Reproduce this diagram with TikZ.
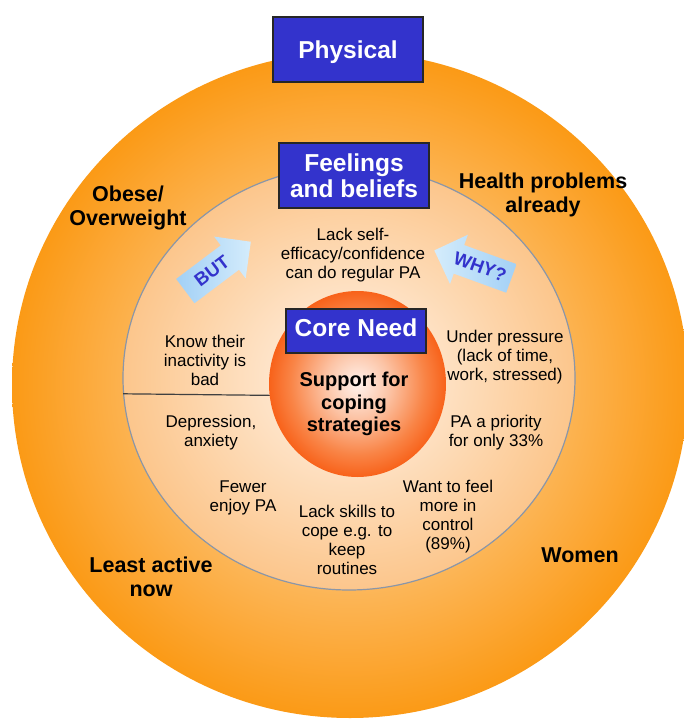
\documentclass[tikz,border=0pt]{standalone}
\usepackage{fontspec}
\setmainfont{Liberation Sans}
\usepackage{xcolor}
\definecolor{boxblue}{HTML}{3333CC}
\definecolor{butblue}{HTML}{A2D0F5}
\definecolor{butpale}{HTML}{D4ECFC}
\definecolor{rimorange}{HTML}{FB9A16}
\definecolor{glow}{HTML}{FFE4C4}
\definecolor{peach}{HTML}{FCC68C}
\definecolor{cream}{HTML}{FFF4EA}
\definecolor{ringline}{HTML}{8A96A8}
\definecolor{corelight}{HTML}{FFF2EC}
\definecolor{coremid}{HTML}{FCC4A6}
\definecolor{coredeep}{HTML}{F98446}
\definecolor{coreedge}{HTML}{F8621A}
\usepackage{tikz}
\usetikzlibrary{shapes.geometric, shapes.arrows, positioning}

\pgfdeclareradialshading{corefade}{\pgfpointorigin}{%
  color(0bp)=(corelight); color(9bp)=(coremid); color(19bp)=(coredeep);
  color(25bp)=(coreedge); color(50bp)=(coreedge)}

\begin{document}
\begin{tikzpicture}[x=1pt, y=-1pt,
  ringtext/.style={align=center, font=\fontsize{17}{19}\selectfont, inner sep=0pt},
  grouplabel/.style={align=center, font=\bfseries\fontsize{21.5}{24.5}\selectfont, inner sep=0pt},
  headbox/.style={draw=black!85, line width=1.3pt, fill=boxblue, text=white, align=center,
    font=\bfseries\fontsize{24.5}{26}\selectfont, minimum width=150pt, minimum height=65pt},
  hintarrow/.style={single arrow, single arrow head extend=11pt, minimum height=82pt,
    inner xsep=2pt, inner ysep=8pt, text height=13pt, text depth=1pt, text=boxblue,
    font=\bfseries\fontsize{18.5}{19}\selectfont},
  divider/.style={draw=black!75, line width=1.2pt}]
  \useasboundingbox (0,0) rectangle (684,719);

  % Rings
  \node[ellipse, minimum width=676pt, minimum height=666pt, inner sep=0pt,
    inner color=glow, outer color=rimorange] (outer) at (350,385) {};
  \node[ellipse, minimum width=452pt, minimum height=424pt, inner sep=0pt, draw=ringline,
    line width=1.2pt, inner color=cream, outer color=peach] (inner) at (349,378) {};

  % split on the left half
  \coordinate (divend) at (330,396);
  \draw[divider] (inner.184.6) -- (divend);

  \node[ellipse, minimum width=177pt, minimum height=186pt, inner sep=0pt,
    shading=corefade] (core) at (357.5,384) {};

  % Headings
  \node[headbox, text depth=0pt] (physical) at (348,49.5) {Physical};
  \node[headbox] (feelings) at (354,175.5) {Feelings\\and beliefs};
  \node[headbox, minimum width=140pt, minimum height=44pt, text depth=6pt] (coreneed) at (356,331) {Core Need};

  % Groups outside
  \node[grouplabel] (obese) at (128,208) {Obese/\\Overweight};
  \node[grouplabel] (health) at (543,195) {Health problems\\already};
  \node[grouplabel] (least) at (151,577) {Least active\\now};
  \node[grouplabel] (women) at (580,555) {Women};

  % Feelings ring
  \node[ringtext] (selfeff) at (353,255) {Lack self-\\efficacy/confidence\\can do regular PA};
  \node[ringtext] (inactive) at (205,360) {Know their\\inactivity is\\bad};
  \node[ringtext] (depress) at (211,433) {Depression,\\anxiety};
  \node[ringtext] (fewer) at (243,498) {Fewer\\enjoy PA};
  \node[ringtext] (skills) at (347,540) {Lack skills to\\cope e.g. to\\keep\\routines};
  \node[ringtext] (control) at (448,517) {Want to feel\\more in\\control\\(89\%)};
  \node[ringtext] (pressure) at (505,357) {Under pressure\\(lack of time,\\work, stressed)};
  \node[ringtext] (priority) at (496,433) {PA a priority\\for only 33\%};

  \node[align=center, font=\bfseries\fontsize{20}{22.5}\selectfont, inner sep=0pt] (support)
    at (354,404) {Support for\\coping\\strategies};

  % BUT / WHY arrows
  \node[hintarrow, rotate=37, left color=butblue, right color=butpale] (but) at (212,271) {BUT};
  \node[hintarrow, shape border rotate=180, rotate=-20, left color=butpale,
    right color=butblue] (why) at (480,267) {WHY?};
\end{tikzpicture}
\end{document}
